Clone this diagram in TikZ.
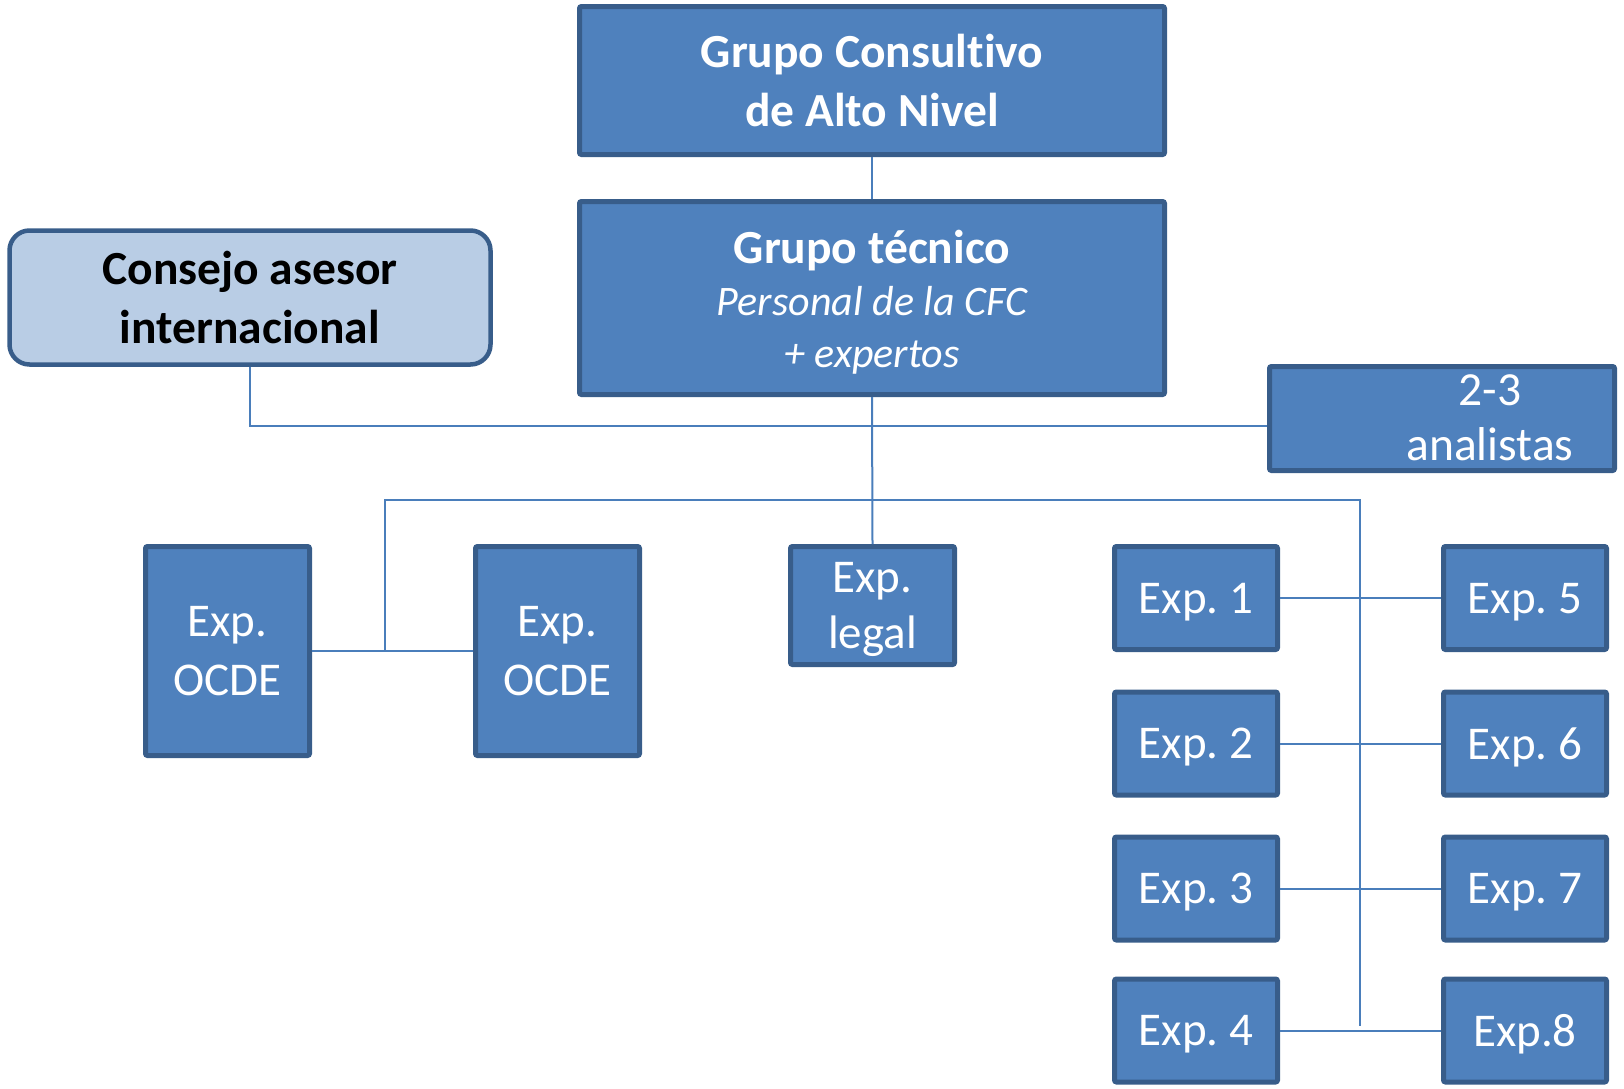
\documentclass[tikz,border=0pt]{standalone}
\usepackage{fontspec}
\setmainfont[Ligatures=NoCommon]{Carlito}
\frenchspacing
\definecolor{boxfill}{RGB}{79,129,189}
\definecolor{boxedge}{RGB}{56,93,138}
\definecolor{softfill}{RGB}{185,205,229}
\definecolor{wire}{RGB}{74,126,187}
\begin{document}
\begin{tikzpicture}[x=1pt,y=-1pt,
  unit/.style={draw=boxedge, line width=5pt, fill=boxfill, rounded corners=2pt,
    inner sep=0pt, text=white, align=center},
  titlefont/.style={font=\fontsize{47.5}{59}\selectfont\bfseries},
  expfont/.style={font=\fontsize{47}{59}\selectfont},
  expbox/.style={unit, expfont, minimum width=163pt, minimum height=103pt, text depth=0pt},
  wireline/.style={draw=wire, line width=2pt}]
\useasboundingbox (0,0) rectangle (1624,1088);

% upper levels
\node[unit, titlefont, minimum width=585pt, minimum height=148pt] (gcan) at (872,80.5)
  {Grupo Consultivo\\de Alto Nivel};
\node[unit, font=\fontsize{47.5}{52}\selectfont, minimum width=585pt, minimum height=193pt] (gt) at (872,298)
  {\raisebox{0pt}[42pt]{\bfseries Grupo técnico}\\{\fontsize{42}{52}\selectfont\itshape Personal de la CFC}\\{\fontsize{42}{52}\selectfont\itshape + expertos}};
\node[draw=boxedge, line width=4.5pt, fill=softfill, rounded corners=20pt, titlefont,
  align=center, minimum width=481pt, minimum height=134pt, inner sep=0pt] (consejo) at (250,297.5)
  {Consejo asesor\\internacional};
\node[unit, minimum width=345pt, minimum height=104pt] (analistas) at (1442,418.5) {};
\node[text=white, font=\fontsize{47.5}{55}\selectfont, align=center, inner sep=0pt] (analistasText) at (1490,417.5)
  {2-3\\analistas};

% experts
\node[unit, expfont, minimum width=164pt, minimum height=209pt, text depth=0pt] (ocdeA) at (227.5,651) {Exp.\\OCDE};
\node[unit, expfont, minimum width=164pt, minimum height=209pt, text depth=0pt] (ocdeB) at (557.5,651) {Exp.\\OCDE};
\node[unit, font=\fontsize{47}{56}\selectfont, minimum width=164pt, minimum height=118pt, text depth=0pt] (legal) at (872.5,605.5) {Exp.\\legal};

\node[expbox] (exp1) at (1196,598)    {Exp. 1};
\node[expbox] (exp2) at (1196,743.5)  {Exp. 2};
\node[expbox] (exp3) at (1196,888.5)  {Exp. 3};
\node[expbox] (exp4) at (1196,1030.5) {Exp. 4};
\node[expbox] (exp5) at (1525,598)    {Exp. 5};
\node[expbox] (exp6) at (1525,743.5)  {Exp. 6};
\node[expbox] (exp7) at (1525,888.5)  {Exp. 7};
\node[expbox] (exp8) at (1525,1030.5) {Exp.8};

% junction points of the connector tree
\coordinate (hub) at (872,426);
\coordinate (busL) at (385,500);
\coordinate (busR) at (1360,500);
\coordinate (busEnd) at (1360,1026);

% connectors
\draw[wireline] (gcan.south) -- (gt.north);
\draw[wireline] (gt.south) -- (legal.north);
\draw[wireline] (consejo.south) |- (hub) -- (hub -| analistas.west);
\draw[wireline] (ocdeA.east) -- (ocdeB.west);
\draw[wireline] (busL |- ocdeA.east) -- (busL) -- (busR) -- (busEnd);
\draw[wireline] (exp1.east) -- (exp5.west);
\draw[wireline] (exp2.east) -- (exp6.west);
\draw[wireline] (exp3.east) -- (exp7.west);
\draw[wireline] (exp4.east) -- (exp8.west);
\end{tikzpicture}
\end{document}
